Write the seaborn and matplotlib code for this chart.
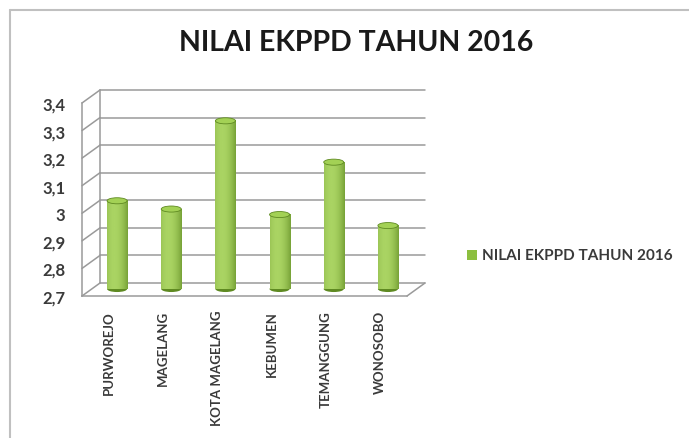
import numpy as np
import pandas as pd
import matplotlib
matplotlib.use("Agg")
import matplotlib.pyplot as plt
import matplotlib.transforms as mtransforms
from matplotlib.patches import Ellipse, Rectangle
from matplotlib.lines import Line2D
import seaborn as sns

# data
kabupaten = ["PURWOREJO", "MAGELANG", "KOTA MAGELANG", "KEBUMEN", "TEMANGGUNG", "WONOSOBO"]
nilai = [3.02, 2.99, 3.31, 2.97, 3.16, 2.93]
y_ticks = [2.7, 2.8, 2.9, 3.0, 3.1, 3.2, 3.3, 3.4]
y_labels = ["2,7", "2,8", "2,9", "3", "3,1", "3,2", "3,3", "3,4"]
series_name = "NILAI EKPPD TAHUN 2016"

df = pd.DataFrame({"kabupaten": kabupaten, "nilai": nilai})

sns.set_theme(style="white")
plt.rcParams["font.family"] = ["Lato", "DejaVu Sans"]

GREEN = "#8cbf3f"
DARK_GREEN = "#5f8a22"
GRID = "#9a9a9a"
TEXT = "#3a3a3a"

fig = plt.figure(figsize=(6.89, 4.39), dpi=100)
ax = fig.add_axes([82 / 689, 142 / 439, 325 / 689, 193 / 439])
ax.set_xlim(-0.5, len(kabupaten) - 0.5)
ax.set_ylim(y_ticks[0], y_ticks[-1])
ax.set_facecolor("none")

# depth offsets in pixels for the fake 3D look
mid = mtransforms.offset_copy(ax.transData, fig=fig, x=8, y=7, units="dots")
back_y = mtransforms.offset_copy(ax.get_yaxis_transform(), fig=fig, x=18, y=13, units="dots")
front_y = ax.get_yaxis_transform()

# back wall gridlines + left wall diagonals
for t in y_ticks:
    ax.plot([0, 1], [t, t], color=GRID, lw=1.1, transform=back_y, clip_on=False, zorder=1)
    p0 = front_y.transform((0, t))
    p1 = back_y.transform((0, t))
    ax.add_line(Line2D([p0[0], p1[0]], [p0[1], p1[1]], color=GRID, lw=1.1,
                       transform=None, clip_on=False, zorder=1))
# floor right edge
p0 = front_y.transform((1, y_ticks[0]))
p1 = back_y.transform((1, y_ticks[0]))
ax.add_line(Line2D([p0[0], p1[0]], [p0[1], p1[1]], color=GRID, lw=1.1, transform=None, clip_on=False))
# back wall left edge
ax.plot([0, 0], [y_ticks[0], y_ticks[-1]], color=GRID, lw=1.1, transform=back_y, clip_on=False)

# bars
sns.barplot(data=df, x="kabupaten", y="nilai", color=GREEN, width=0.37, ax=ax,
            saturation=1, zorder=3)

grad = np.linspace(0, 1, 64)
shade = np.clip(1.0 - 1.6 * (grad - 0.35) ** 2, 0, 1)
cmap = matplotlib.colors.LinearSegmentedColormap.from_list("cyl", [DARK_GREEN, "#aad463"])
bottom = y_ticks[0]
for patch in list(ax.patches):
    x0 = patch.get_x()
    w = patch.get_width()
    top = patch.get_height()
    patch.set_visible(False)
    ax.imshow(shade[np.newaxis, :], cmap=cmap, aspect="auto",
              extent=(x0, x0 + w, bottom, top), transform=mid, zorder=3,
              vmin=0, vmax=1)
    cx = x0 + w / 2
    ax.add_patch(Ellipse((cx, top), w, 0.022, facecolor="#a3d155", edgecolor=DARK_GREEN,
                         lw=0.6, transform=mid, zorder=4))
    ax.add_patch(Ellipse((cx, bottom), w, 0.022, facecolor=DARK_GREEN, edgecolor="none",
                         transform=mid, zorder=2.9))
ax.set_xlim(-0.5, len(kabupaten) - 0.5)
ax.set_ylim(y_ticks[0], y_ticks[-1])

for s in ["top", "right"]:
    ax.spines[s].set_visible(False)
for s in ["left", "bottom"]:
    ax.spines[s].set_color(GRID)
    ax.spines[s].set_linewidth(1.1)

ax.set_yticks(y_ticks)
ax.set_yticklabels(y_labels, fontsize=12, color=TEXT, fontweight="bold")
ax.set_xticks(np.arange(len(kabupaten)) - 0.5, minor=True)
ax.tick_params(axis="y", length=0, pad=12)
ax.tick_params(axis="x", which="major", length=0, pad=10)
ax.tick_params(axis="x", which="minor", length=4, color=GRID, direction="out", width=1.1)
ax.set_xticks(range(len(kabupaten)))
ax.set_xticklabels(kabupaten, rotation=90, fontsize=9.5, color=TEXT, va="top",
                   fontweight="bold")
ax.set_xlabel("")
ax.set_ylabel("")

fig.text(356 / 689, 1 - 43 / 439, "NILAI EKPPD TAHUN 2016", ha="center", va="center",
         fontsize=20.5, fontweight="bold", color="#1a1a1a")

# legend
fig.patches.append(Rectangle((467 / 689, 1 - 261 / 439), 10 / 689, 10 / 439,
                             transform=fig.transFigure, facecolor=GREEN, edgecolor="none"))
fig.text(482 / 689, 1 - 256 / 439, series_name, ha="left", va="center",
         fontsize=11, color=TEXT, fontweight="bold")

# outer chart border (top and left)
fig.add_artist(Line2D([10 / 689, 1], [1 - 11 / 439] * 2, color="#c0c0c0", lw=1.5,
                      transform=fig.transFigure))
fig.add_artist(Line2D([10 / 689] * 2, [0, 1 - 11 / 439], color="#c0c0c0", lw=1.5,
                      transform=fig.transFigure))

fig.savefig("out.png", dpi=100)
